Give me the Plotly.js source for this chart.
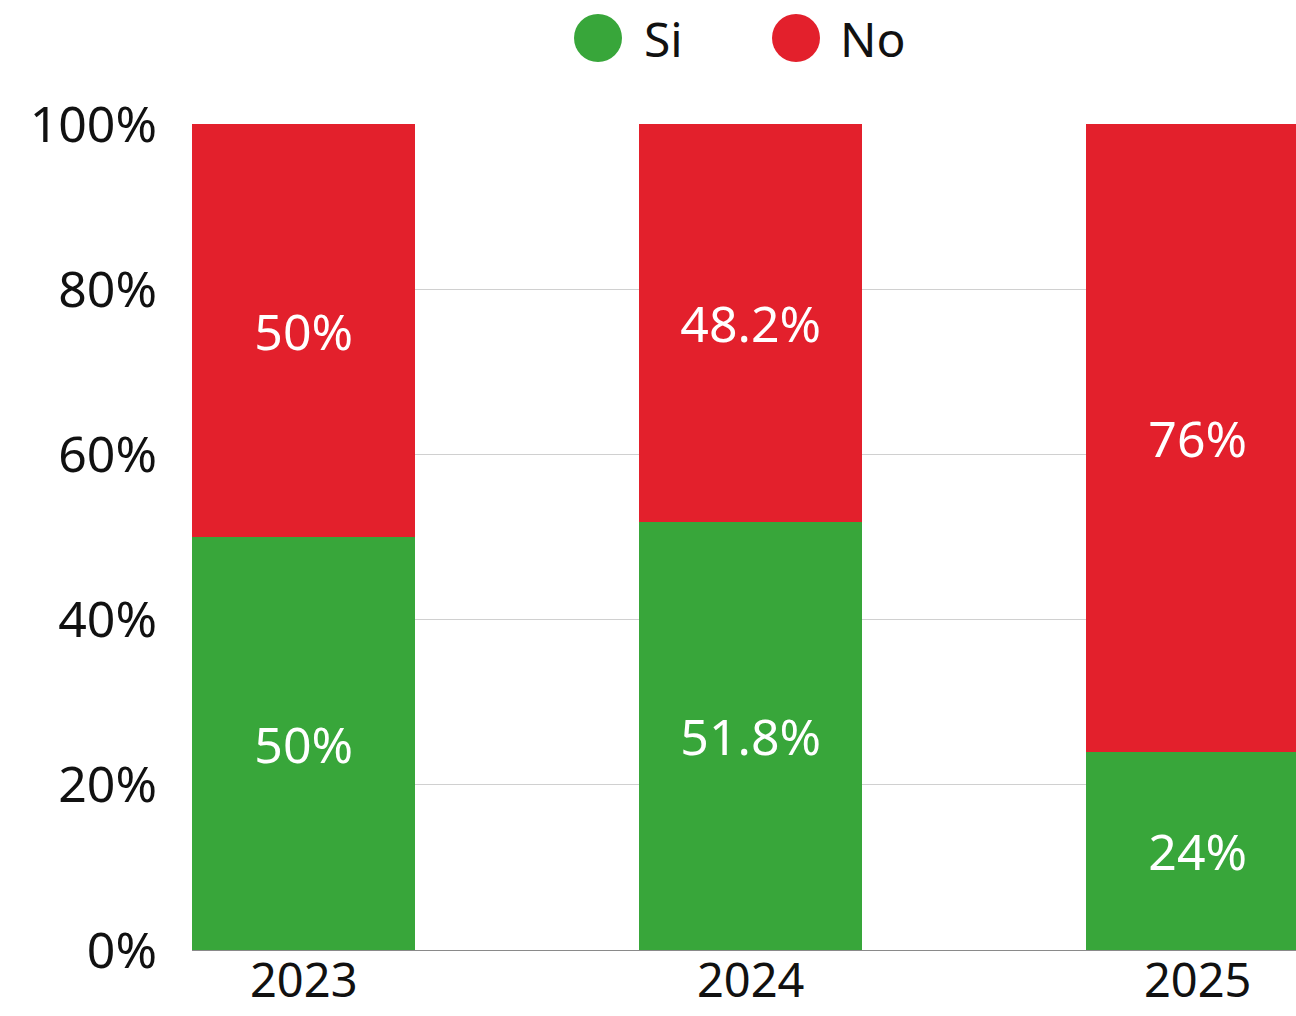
<!DOCTYPE html>
<html><head><meta charset="utf-8">
<script src="https://cdn.plot.ly/plotly-3.0.1.min.js"></script>
<style>html,body{margin:0;padding:0;background:#fff}#chart{width:1296px;height:1016px}</style>
</head><body><div id="chart"></div>
<script>
const years = ['2023', '2024', '2025'];
const si = [50, 51.8, 24];
const no = [50, 48.2, 76];
const siLabels = ['50%', '51.8%', '24%'];
const noLabels = ['50%', '48.2%', '76%'];
const yTicks = [0, 20, 40, 60, 80, 100];
const yTickText = ['0%', '20%', '40%', '60%', '80%', '100%'];

const FONT = 'Noto Sans, sans-serif';
const GREEN = '#38a63a';
const RED = '#e3202c';
const SZ = 50;

const traces = [
  {type: 'bar', name: 'Si', x: [0, 1, 2], y: si, text: siLabels, textposition: 'inside',
   insidetextanchor: 'middle', textfont: {color: '#ffffff', size: SZ, family: FONT},
   marker: {color: GREEN}, showlegend: false, hoverinfo: 'skip'},
  {type: 'bar', name: 'No', x: [0, 1, 2], y: no, text: noLabels, textposition: 'inside',
   insidetextanchor: 'middle', textfont: {color: '#ffffff', size: SZ, family: FONT},
   marker: {color: RED}, showlegend: false, hoverinfo: 'skip'}
];

const layout = {
  width: 1296, height: 1016,
  margin: {l: 192, r: 0, t: 124, b: 66},
  barmode: 'stack', bargap: 0.5,
  paper_bgcolor: '#fff', plot_bgcolor: '#fff',
  font: {family: FONT, color: '#111', size: SZ},
  xaxis: {range: [-0.25, 2.22], tickmode: 'array', tickvals: [0, 1, 2], ticktext: years,
          showgrid: false, zeroline: false, showline: true, linecolor: '#8a8a8a', linewidth: 1,
          ticks: '', ticklabelstandoff: -10, tickfont: {size: 47, family: FONT, color: '#111'}},
  yaxis: {range: [0, 100], tickmode: 'array', tickvals: yTicks, ticktext: yTickText,
          showgrid: true, gridcolor: '#d0d0d0', gridwidth: 1, zeroline: false, showline: false,
          ticks: '', ticklabelstandoff: 34, tickfont: {size: SZ, family: FONT, color: '#111'}},
  shapes: [
    {type: 'circle', xref: 'paper', yref: 'paper', x0: (574-192)/1104, x1: (622-192)/1104,
     y0: (950-62)/826, y1: (950-14)/826, fillcolor: GREEN, line: {width: 0}},
    {type: 'circle', xref: 'paper', yref: 'paper', x0: (772-192)/1104, x1: (820-192)/1104,
     y0: (950-62)/826, y1: (950-14)/826, fillcolor: RED, line: {width: 0}}
  ],
  annotations: [
    {xref: 'paper', yref: 'paper', x: (642-192)/1104, y: (950-38)/826, xanchor: 'left', yanchor: 'middle',
     text: 'Si', showarrow: false, font: {size: 48, family: FONT, color: '#111'}},
    {xref: 'paper', yref: 'paper', x: (838-192)/1104, y: (950-38)/826, xanchor: 'left', yanchor: 'middle',
     text: 'No', showarrow: false, font: {size: 48, family: FONT, color: '#111'}}
  ]
};

Plotly.newPlot('chart', traces, layout, {displayModeBar: false, staticPlot: true});
</script></body></html>
